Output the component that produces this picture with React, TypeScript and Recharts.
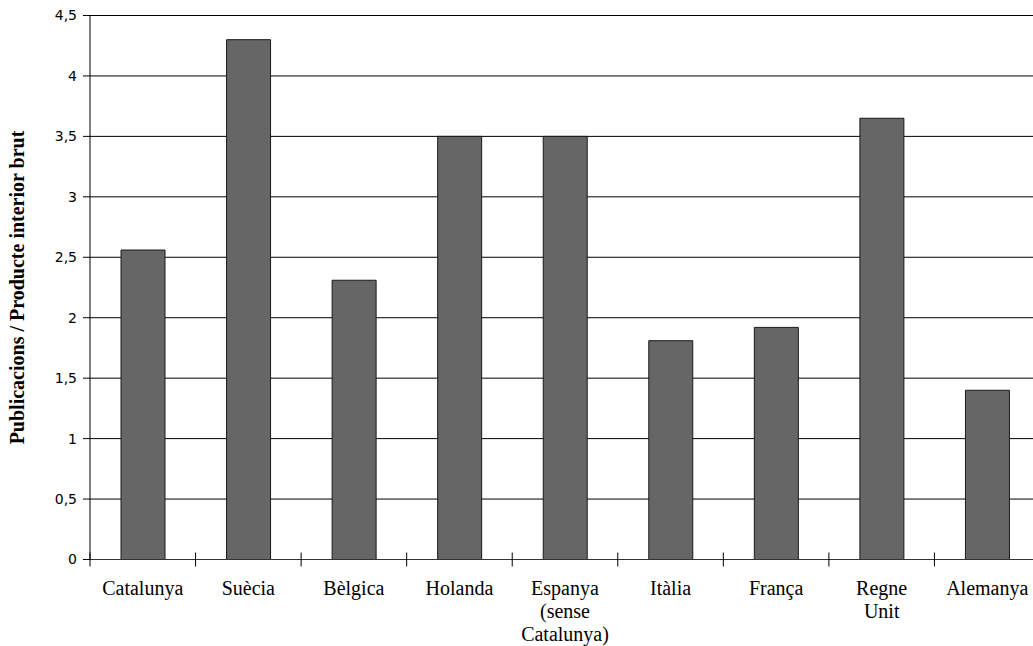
import React from "react";
import { Bar, BarChart, CartesianGrid, XAxis, YAxis, Label } from "recharts";

// Category labels ("\n" marks where the original wraps a label)
const COUNTRIES = [
  "Catalunya",
  "Suècia",
  "Bèlgica",
  "Holanda",
  "Espanya\n(sense\nCatalunya)",
  "Itàlia",
  "França",
  "Regne\nUnit",
  "Alemanya",
];
const RATIO = [2.56, 4.3, 2.31, 3.5, 3.5, 1.81, 1.92, 3.65, 1.4];
const Y_TICKS = [0, 0.5, 1, 1.5, 2, 2.5, 3, 3.5, 4, 4.5];
const Y_TITLE = "Publicacions / Producte interior brut";

const data = COUNTRIES.map((name, i) => ({ name, value: RATIO[i] }));

const CHART_W = 1050;
const CHART_H = 646;
const MARGIN = { top: 15.5, right: 10, bottom: 26.5, left: 0 };
const X_AXIS_H = 60;
const Y_AXIS_W = 90;
const PLOT_W = CHART_W - MARGIN.left - MARGIN.right - Y_AXIS_W;
const BAND = PLOT_W / COUNTRIES.length;

const serif = "'Liberation Serif', 'Times New Roman', serif";

// Ticks sit on category boundaries (crossing the axis), label below centre.
function CategoryTick(props: any) {
  const { x, y, payload } = props;
  const lines = String(payload.value).split("\n");
  const bx = x - BAND / 2;
  return (
    <g>
      <line x1={bx} x2={bx} y1={y - 7} y2={y + 7} stroke="#000" strokeWidth={1} />
      <text x={x} y={y + 35} textAnchor="middle" fill="#000" fontFamily={serif} fontSize={20}>
        {lines.map((l, i) => (
          <tspan key={i} x={x} dy={i === 0 ? 0 : 23}>
            {l}
          </tspan>
        ))}
      </text>
    </g>
  );
}

const fmt = (v: number) => String(v).replace(".", ",");

export default function App() {
  return (
    <div style={{ position: "absolute", left: 0, top: 0, width: 1033, height: 646, overflow: "hidden", background: "#fff" }}>
      <BarChart width={CHART_W} height={CHART_H} data={data} margin={MARGIN}>
        <CartesianGrid vertical={false} stroke="#000" strokeOpacity={1} />
        <XAxis
          dataKey="name"
          height={X_AXIS_H}
          interval={0}
          tickSize={0}
          tickMargin={0}
          tickLine={false}
          axisLine={{ stroke: "#333" }}
          tick={<CategoryTick />}
        />
        <YAxis
          width={Y_AXIS_W}
          domain={[0, 4.5]}
          ticks={Y_TICKS}
          interval={0}
          tickSize={7}
          tickMargin={6}
          tickFormatter={fmt}
          axisLine={{ stroke: "#000" }}
          tickLine={{ stroke: "#000" }}
          tick={{ fill: "#000", fontSize: 14, fontFamily: "'DejaVu Sans', sans-serif" }}
        >
          <Label
            content={({ viewBox }: any) => {
              const cx = viewBox.x + 17;
              const cy = viewBox.y + viewBox.height / 2;
              return (
                <text
                  x={cx}
                  y={cy}
                  transform={`rotate(-90 ${cx} ${cy})`}
                  textAnchor="middle"
                  dominantBaseline="central"
                  fontFamily={serif}
                  fontWeight="bold"
                  fontSize={20}
                  fill="#000"
                >
                  {Y_TITLE}
                </text>
              );
            }}
          />
        </YAxis>
        <Bar dataKey="value" fill="#666666" stroke="#1a1a1a" strokeWidth={1} barSize={44} isAnimationActive={false} />
      </BarChart>
    </div>
  );
}
